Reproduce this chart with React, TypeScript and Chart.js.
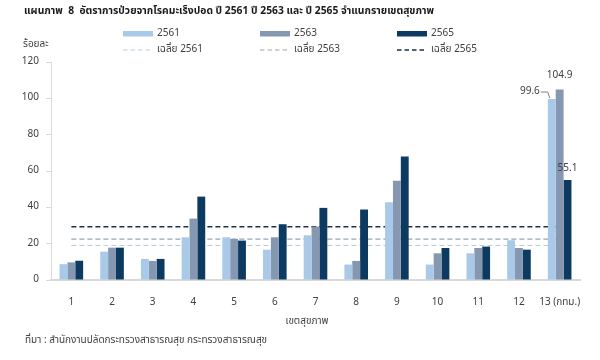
import React, { useEffect, useRef } from "react";
import { Chart, registerables } from "chart.js";
Chart.register(...registerables);

const FONT = "Tahoma, 'Noto Sans Thai', 'Noto Sans', 'DejaVu Sans', sans-serif";

const titleText = "แผนภาพ  8  อัตราการป่วยจากโรคมะเร็งปอด ปี 2561 ปี 2563 และ ปี 2565 จำแนกรายเขตสุขภาพ";
const yUnit = "ร้อยละ";
const xTitle = "เขตสุขภาพ";
const sourceText = "ที่มา : สำนักงานปลัดกระทรวงสาธารณสุข กระทรวงสาธารณสุข";

const categories = ["1", "2", "3", "4", "5", "6", "7", "8", "9", "10", "11", "12", "13 (กทม.)"];
const seriesNames = ["2561", "2563", "2565"];
const avgNames = ["เฉลี่ย 2561", "เฉลี่ย 2563", "เฉลี่ย 2565"];
const v2561 = [8.7, 15.6, 11.6, 23.5, 23.5, 16.7, 24.6, 8.5, 42.8, 8.5, 14.7, 21.9, 99.6];
const v2563 = [9.7, 17.8, 10.5, 33.8, 22.6, 23.5, 29.4, 10.5, 54.7, 14.7, 17.6, 17.6, 104.9];
const v2565 = [10.6, 17.8, 11.6, 45.9, 21.7, 30.7, 39.7, 38.8, 68.0, 17.6, 18.4, 16.7, 55.1];
const averages = [19.0, 22.5, 29.3];
const yTicks = [0, 20, 40, 60, 80, 100, 120];
const labeledIndex = 12;

const barColors = ["#a9c9e9", "#8597b1", "#0d3a61"];
const avgColors = ["#b9cde2", "#9aa3b2", "#1a2f4a"];

const overlay = {
  id: "overlay",
  afterDraw(chart: any) {
    const ctx = chart.ctx;
    ctx.save();
    ctx.textBaseline = "middle";
    // title
    ctx.fillStyle = "#1a1a1a";
    ctx.font = `bold 10.3px ${FONT}`;
    ctx.textAlign = "left";
    ctx.fillText(titleText, 24, 12);
    // unit
    ctx.fillStyle = "#404040";
    ctx.font = `10px ${FONT}`;
    ctx.fillText(yUnit, 23, 45);
    // legend
    const cols = [123, 260, 397];
    for (let i = 0; i < 3; i++) {
      const x = cols[i];
      ctx.fillStyle = barColors[i];
      ctx.fillRect(x, 31, 30, 5.5);
      ctx.fillStyle = "#404040";
      ctx.fillText(seriesNames[i], x + 34, 34);
      ctx.strokeStyle = avgColors[i];
      ctx.lineWidth = i === 2 ? 1.5 : 1.2;
      ctx.setLineDash([4.5, 3]);
      ctx.beginPath();
      ctx.moveTo(x, 50);
      ctx.lineTo(x + 30, 50);
      ctx.stroke();
      ctx.setLineDash([]);
      ctx.fillText(avgNames[i], x + 34, 50);
    }
    // x title & source
    ctx.textAlign = "center";
    ctx.fillText(xTitle, 307, 322);
    ctx.textAlign = "left";
    ctx.fillText(sourceText, 25, 341);
    // data labels
    const m0 = chart.getDatasetMeta(0).data[labeledIndex];
    const m1 = chart.getDatasetMeta(1).data[labeledIndex];
    const m2 = chart.getDatasetMeta(2).data[labeledIndex];
    ctx.fillStyle = "#404040";
    ctx.font = `10px ${FONT}`;
    ctx.textAlign = "right";
    ctx.fillText(v2561[labeledIndex].toFixed(1), m0.x - 12, m0.y - 7);
    ctx.strokeStyle = "#808080";
    ctx.lineWidth = 1;
    ctx.beginPath();
    ctx.moveTo(m0.x - 11, m0.y - 7);
    ctx.lineTo(m0.x - 4, m0.y - 7);
    ctx.lineTo(m0.x - 2, m0.y - 1);
    ctx.stroke();
    ctx.textAlign = "center";
    ctx.fillText(v2563[labeledIndex].toFixed(1), m1.x, m1.y - 13);
    ctx.fillText(v2565[labeledIndex].toFixed(1), m2.x, m2.y - 11);
    ctx.restore();
  },
};

export default function App() {
  const ref = useRef<HTMLCanvasElement>(null);
  useEffect(() => {
    document.body.style.margin = "0";
    Chart.defaults.font.family = FONT;
    const barData = [v2561, v2563, v2565];
    const chart = new Chart(ref.current!, {
      type: "bar",
      data: {
        labels: categories,
        datasets: [
          ...barData.map((d, i) => ({
            type: "bar" as const,
            label: seriesNames[i],
            data: d,
            backgroundColor: barColors[i],
            barPercentage: 1,
            categoryPercentage: 0.58,
            order: 0,
          })),
          ...averages.map((a, i) => ({
            type: "line" as const,
            label: avgNames[i],
            data: categories.map(() => a),
            borderColor: avgColors[i],
            borderWidth: i === 2 ? 1.5 : 1.2,
            borderDash: [5, 3],
            pointRadius: 0,
            fill: false,
            order: 1,
          })),
        ],
      } as any,
      options: {
        responsive: false,
        animation: false,
        layout: { padding: { top: 62, left: 0, right: 20, bottom: 0 } },
        plugins: { legend: { display: false }, tooltip: { enabled: false }, title: { display: false } },
        scales: {
          x: {
            grid: { display: false },
            border: { color: "#d9d9d9", width: 2 },
            ticks: { color: "#404040", font: { size: 10 }, padding: 9, maxRotation: 0, autoSkip: false },
            afterFit: (s: any) => { s.height = 80; },
          },
          y: {
            min: 0,
            max: 120,
            afterBuildTicks: (s: any) => { s.ticks = yTicks.map((v) => ({ value: v })); },
            ticks: { color: "#404040", font: { size: 10 }, padding: 7 },
            grid: { drawOnChartArea: false, drawTicks: true, tickLength: 5, color: "#d9d9d9" },
            border: { color: "#d9d9d9", width: 1 },
            afterFit: (s: any) => { s.width = 51; },
          },
        },
      },
      plugins: [overlay],
    });
    return () => chart.destroy();
  }, []);
  return <canvas ref={ref} width={600} height={360} />;
}
